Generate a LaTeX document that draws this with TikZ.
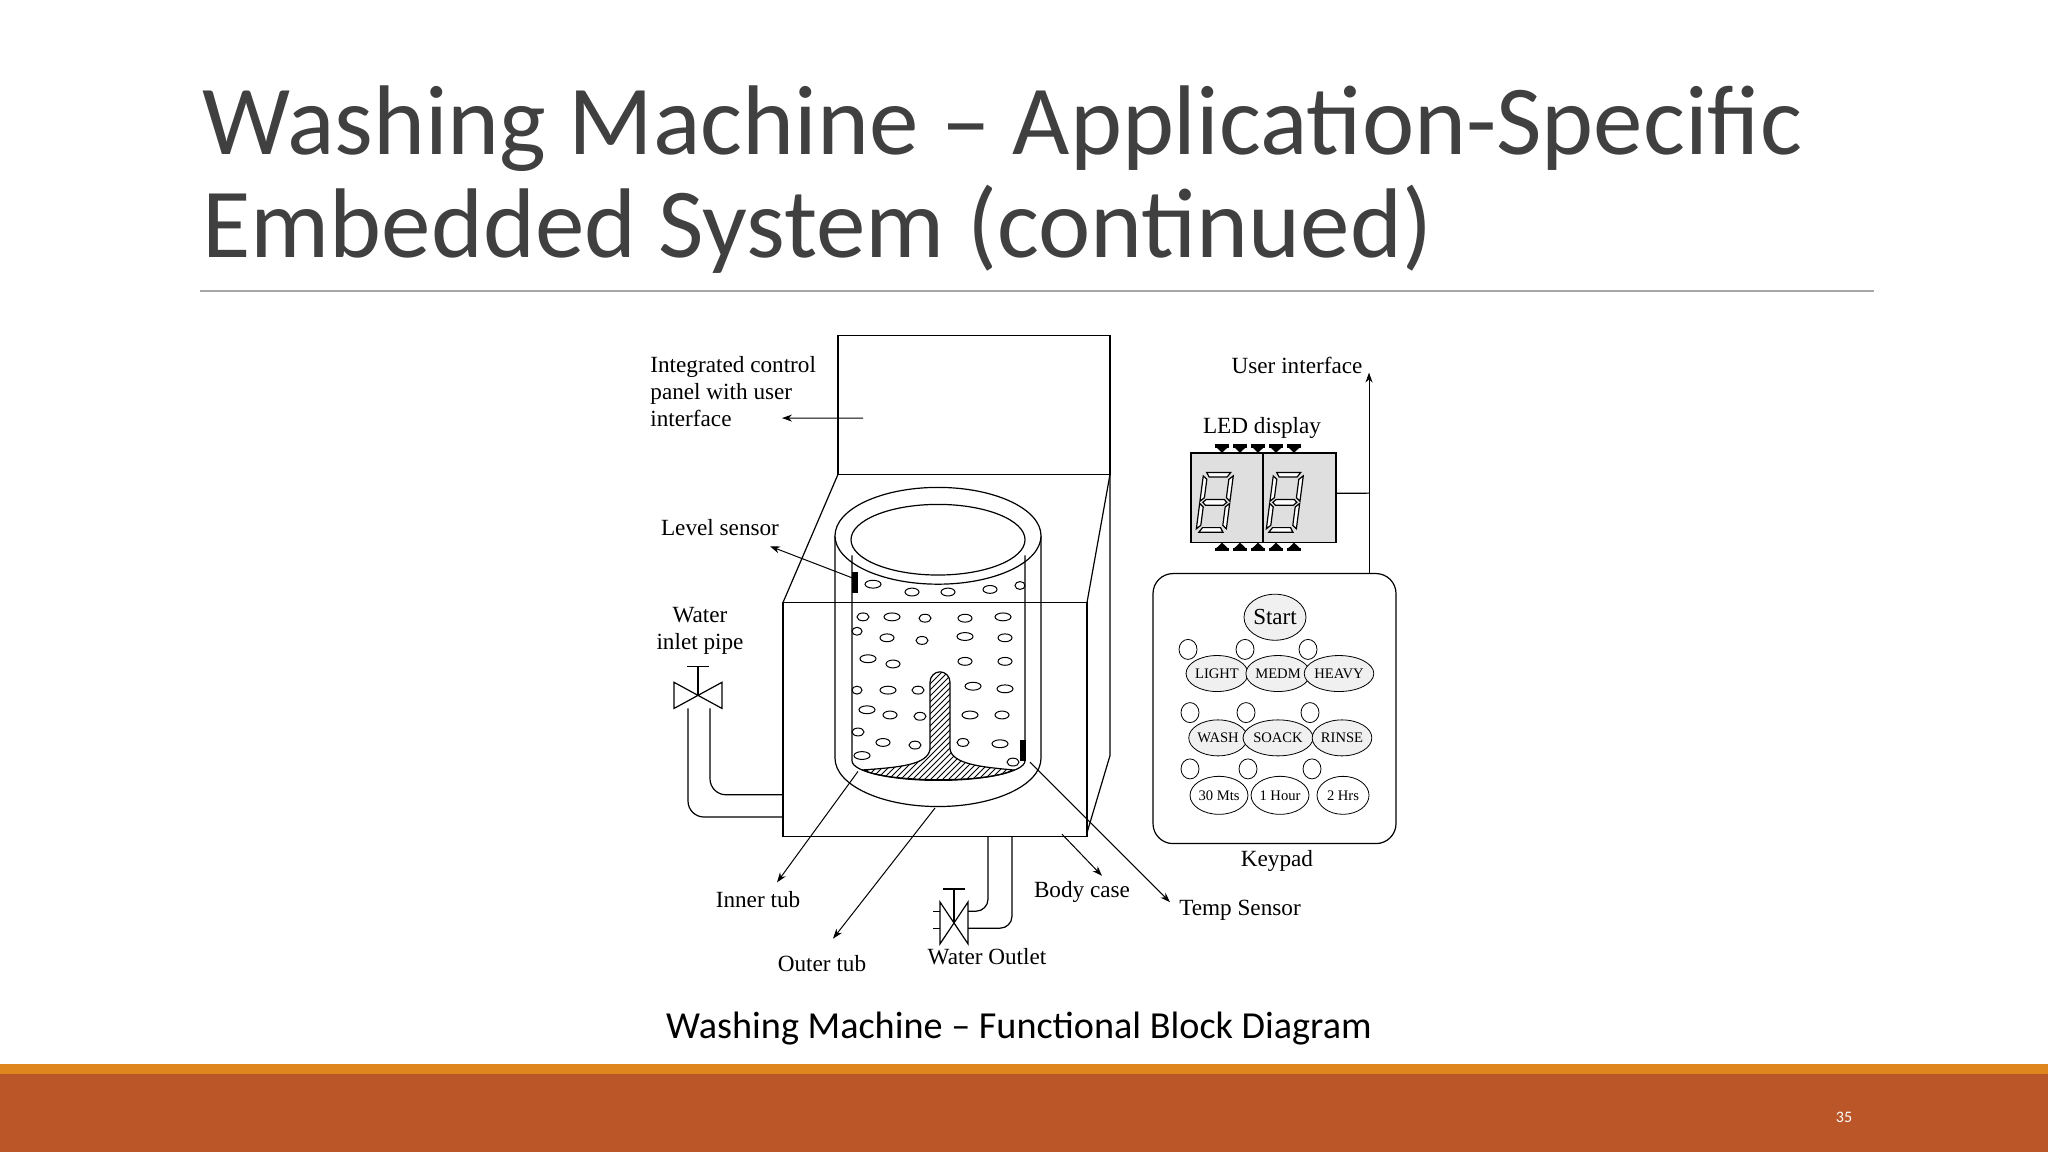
\documentclass[tikz,border=0pt]{standalone}
\usepackage{fontspec}
\setmainfont{Carlito}
\newfontfamily\tnr{Liberation Serif}
\usetikzlibrary{patterns,arrows.meta,shapes.geometric}
\definecolor{titlegray}{HTML}{404040}
\definecolor{barorange}{HTML}{BA5628}
\definecolor{stripe}{HTML}{E0861E}
\newcommand\segdigit[2]{%
 \begin{scope}[shift={(#1,#2)},xslant=0.15]
  \draw[fill=white] (5,2) -- (29,2) -- (26,6) -- (8,6) -- cycle;
  \draw[fill=white] (5,28) -- (8,25.5) -- (26,25.5) -- (29,28) -- (26,30.5) -- (8,30.5) -- cycle;
  \draw[fill=white] (5,54) -- (29,54) -- (26,50) -- (8,50) -- cycle;
  \draw[fill=white] (2,5) -- (6,8) -- (6,24) -- (2,27) -- cycle;
  \draw[fill=white] (32,5) -- (28,8) -- (28,24) -- (32,27) -- cycle;
  \draw[fill=white] (2,29) -- (6,32) -- (6,48) -- (2,51) -- cycle;
  \draw[fill=white] (32,29) -- (28,32) -- (28,48) -- (32,51) -- cycle;
 \end{scope}}
\begin{document}
\begin{tikzpicture}[x=0.5pt,y=-0.5pt,
  lbl/.style={font=\tnr\fontsize{11.6}{13.5}\selectfont,align=center,inner sep=0},
  key/.style={draw,ellipse,fill=gray!12,inner sep=0,font=\tnr\fontsize{7.3}{8}\selectfont},
  led/.style={draw,ellipse,minimum width=9pt,minimum height=10pt,inner sep=0},
  arr/.style={-{Stealth[length=5pt,width=3.5pt]},line width=0.5pt},
  ln/.style={line width=0.6pt}]
\useasboundingbox (0,0) rectangle (2048,1152);
\fill[white] (0,0) rectangle (2048,1152);
% title
\node[anchor=base west,inner sep=0,text=titlegray,font=\fontsize{49.5}{60}\selectfont] (t1) at (202,154) {Washing Machine – Application-Specific};
\node[anchor=base west,inner sep=0,text=titlegray,font=\fontsize{49.5}{60}\selectfont] (t2) at (202,257) {Embedded System (continued)};
\draw[gray!70,line width=0.8pt] (200,291) -- (1874,291);
% bottom bar
\fill[stripe] (0,1064) rectangle (2048,1074);
\fill[barorange] (0,1074) rectangle (2048,1152);
\node[text=white,font=\fontsize{8}{9}\selectfont] (pg) at (1844,1117) {35};
\node[anchor=base,inner sep=0,font=\fontsize{19.1}{22}\selectfont] (cap) at (1019,1038) {Washing Machine – Functional Block Diagram};
% ---- machine
\begin{scope}[shift={(0,-98.6)},yscale=1.308]
\begin{scope}[ln]
\draw (838,438) rectangle (1110,332);
\draw (838,438) -- (783,536);
\draw (1110,438) -- (1087,536);
\draw (1110,438) -- (1110,653) -- (1087,712);
\draw (783,536) rectangle (1087,715);
% outer tub
\draw[fill=white] (835,485) -- (835,655) arc[start angle=180,end angle=0,x radius=103,y radius=37] -- (1041,485);
\draw[fill=white] (938,485) ellipse [x radius=103,y radius=37];
\draw (938,488) ellipse [x radius=87,y radius=27];
\draw (852,500) -- (852,657) arc[start angle=180,end angle=0,x radius=86.5,y radius=15] -- (1025,500);
\draw (783,536) -- (1087,536);
% holes
\foreach \x/\y/\r in {873/522/8,912/528/7,948/528/7,990/526/7,1020/523/5,
 863/547/6,892/547/8,925/548/6,965/548/7,1003/547/8,
 857/558/5,887/563/7,922/565/6,965/562/8,1005/563/7,
 868/579/8,893/583/7,965/581/7,1005/581/7,
 857/603/5,888/603/8,918/603/6,973/600/8,1005/602/8,
 867/618/8,890/622/7,920/623/6,970/622/8,1002/622/7,
 858/635/6,883/643/7,915/645/6,963/643/6,1000/644/8,
 862/653/8,1013/658/6}
  \draw[line width=0.5pt] (\x,\y) ellipse [x radius=\r,y radius=3];
% agitator
\draw[fill=white,pattern=north east lines] (930,648) -- (930,597) arc[start angle=180,end angle=360,x radius=10,y radius=8] -- (950,648)
  .. controls (952,660) and (985,662) .. (1013,664) .. controls (990,674) and (890,674) .. (863,664) .. controls (900,662) and (928,660) .. (930,648) -- cycle;
% sensors
\fill (852,513) rectangle (858,529);
\fill (1020,641) rectangle (1026,657);
% inlet
\draw (674,597) -- (722,617) -- (722,597) -- (674,617) -- cycle;
\draw (698,607) -- (698,585) (687,585) -- (709,585);
\draw[rounded corners=8] (688,617) -- (688,700) -- (783,700);
\draw[rounded corners=8] (710,617) -- (710,683) -- (783,683);
% outlet
\draw[rounded corners=6] (988,715) -- (988,772) -- (968,772);
\draw[rounded corners=6] (1012,715) -- (1012,785) -- (968,785);
\draw (933,772) -- (940,772) (933,785) -- (940,785);
\draw (940,765) -- (968,797) -- (968,765) -- (940,797) -- cycle;
\draw (954,781) -- (954,755) (943,755) -- (965,755);
\end{scope}
\node[lbl,align=left,anchor=west] (icp) at (650,375) {Integrated control\\panel with user\\interface};
\coordinate (icpa) at (863,395);
\draw[arr] (icpa) -- (782,395);
\node[lbl] (ls) at (720,479) {Level sensor};
\coordinate (lss) at (852,517);
\draw[arr] (lss) -- (770,493);
\node[lbl] (wip) at (700,558) {Water\\inlet pipe};
\node[lbl] (it) at (758,763) {Inner tub};
\coordinate (its) at (858,665);
\draw[arr] (its) -- (777,750);
\node[lbl] (ot) at (822,812) {Outer tub};
\coordinate (ots) at (935,693);
\draw[arr] (ots) -- (833,793);
\node[lbl] (wo) at (987,807) {Water Outlet};
\node[lbl] (bc) at (1082,757) {Body case};
\coordinate (bcs) at (1062,713);
\draw[arr] (bcs) -- (1102,745);
\coordinate (tss) at (1030,658);
\end{scope}
% ---- right panel
\begin{scope}[shift={(0,-49.2)},yscale=1.149]
\begin{scope}[ln]
\draw[fill=gray!25] (1191,437) rectangle (1336,515);
\draw (1263,437) -- (1263,515);
\foreach \i in {0,...,4}{
  \fill ({1222+\i*18},437) -- ++(-7,-6) -- ++(14,0) -- cycle;
  \fill ({1222+\i*18},515) -- ++(-7,6) -- ++(14,0) -- cycle;
  \draw[line width=1.6pt] ({1215+\i*18},431) -- ++(14,0);
  \draw[line width=1.6pt] ({1215+\i*18},521) -- ++(14,0);
}
\segdigit{1202}{452}
\segdigit{1272}{452}
\draw[rounded corners=10] (1153,542) rectangle (1396,777);
\end{scope}
\coordinate (ledr) at (1336,472);
\coordinate (kpt) at (1369,542);
\coordinate (uiend) at (1369,367);
\draw[ln] (ledr) -- (1369,472);
\draw[arr] (kpt) -- (uiend);
\node[lbl] (ui) at (1297,361) {User interface};
\node[lbl] (ledl) at (1262,415) {LED display};
\node[key,minimum width=31pt,minimum height=23pt,font=\tnr\fontsize{11.5}{12}\selectfont] (start) at (1275,580) {Start};
\foreach \n/\x/\y in {a/1188/608,b/1245/608,c/1308/608,d/1190/663,e/1246/663,f/1310/663,g/1190/712,h/1248/712,i/1312/712}
  \node[led] (l\n) at (\x,\y) {};
\node[key,minimum width=26pt,minimum height=18pt] (light) at (1217,629) {LIGHT};
\node[key,minimum width=26pt,minimum height=18pt] (medm) at (1278,629) {MEDM};
\node[key,minimum width=32pt,minimum height=18pt] (heavy) at (1339,629) {HEAVY};
\node[key,minimum width=26pt,minimum height=18pt] (wash) at (1218,685) {WASH};
\node[key,minimum width=29pt,minimum height=18pt] (soack) at (1278,685) {SOACK};
\node[key,minimum width=27pt,minimum height=18pt] (rinse) at (1342,685) {RINSE};
\node[key,fill=white,minimum width=26pt,minimum height=19pt] (m30) at (1219,735) {30 Mts};
\node[key,fill=white,minimum width=26pt,minimum height=19pt] (h1) at (1280,735) {1 Hour};
\node[key,fill=white,minimum width=26pt,minimum height=19pt] (h2) at (1343,735) {2 Hrs};
\node[lbl] (kp) at (1277,792) {Keypad};
\node[lbl] (ts) at (1240,835) {Temp Sensor};
\coordinate (tse) at (1170,828);
\end{scope}
\draw[arr] (tss) -- (tse);
\end{tikzpicture}
\end{document}
